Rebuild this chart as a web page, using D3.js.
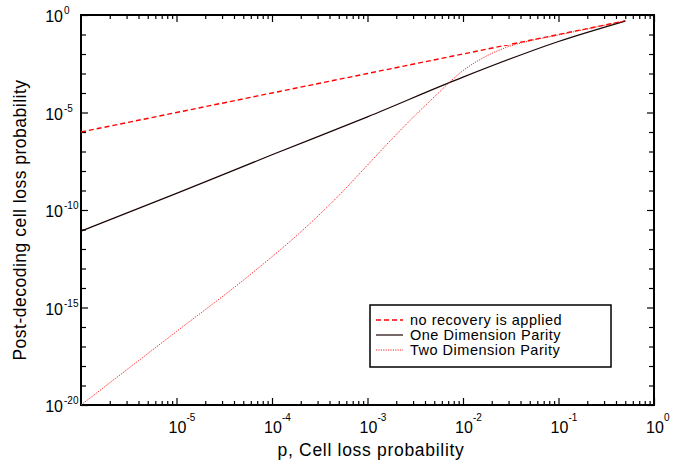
<!DOCTYPE html>
<html>
<head>
<meta charset="utf-8">
<script src="https://cdn.jsdelivr.net/npm/d3@7"></script>
<style>
  body { margin: 0; background: #fff; }
  svg { font-family: "Liberation Sans", Arial, sans-serif; }
</style>
</head>
<body>
<svg id="chart" width="673" height="462"></svg>
<script>
// values
const noRecoveryP = [1e-6, 1e-5, 1e-4, 1e-3, 1e-2, 1e-1, 0.5];
const noRecoveryLoss = [1e-6, 1e-5, 1e-4, 1e-3, 1e-2, 1e-1, 0.5];

const oneDimP = [1e-6, 1e-5, 1e-4, 1e-3, 1e-2, 1e-1, 0.5];
const oneDimLoss = [8.3e-12, 7.1e-10, 6.8e-8, 6.0e-6, 6.5e-4, 4.4e-2, 0.49];

const twoDimP = [1e-6, 1e-5, 5e-5, 1e-4, 2e-4, 5e-4, 1e-3, 2e-3, 5e-3, 1e-2, 2e-2, 3e-2, 5e-2, 1e-1, 0.5];
const twoDimLoss = [1e-20, 5.9e-17, 2.5e-14, 4e-13, 7.5e-12, 5.5e-10, 2e-8, 7.5e-7, 6.3e-5, 1.4e-3, 1.07e-2, 2.4e-2, 4.7e-2, 9.5e-2, 0.5];

const xMajorExp = [-5, -4, -3, -2, -1, 0];
const yMajorExp = [0, -5, -10, -15, -20];

const xTitle = "p, Cell loss probability";
const yTitle = "Post-decoding cell loss probability";

const legendLabels = ["no recovery is applied", "One Dimension Parity", "Two Dimension Parity"];

const margin = { left: 81, right: 19, top: 15, bottom: 57 };
const width = 673;
const height = 462;

const svg = d3.select("#chart");

const x = d3
  .scaleLog()
  .domain([1e-6, 1])
  .range([margin.left, width - margin.right]);
const y = d3
  .scaleLog()
  .domain([1e-20, 1])
  .range([height - margin.bottom, margin.top]);

// tick positions
const xMinor = [];
for (let e = -6; e < 0; e++) {
  for (let k = 2; k <= 9; k++) xMinor.push(k * Math.pow(10, e));
}
const xMajor = xMajorExp.map((e) => Math.pow(10, e));
const yMinor = d3.range(-19, 0).filter((e) => e % 5 !== 0).map((e) => Math.pow(10, e));
const yMajor = yMajorExp.map((e) => Math.pow(10, e));

const drawTicks = (axisFn, scale, values, size, transform) => {
  svg
    .append("g")
    .attr("transform", transform)
    .call(axisFn(scale).tickValues(values).tickSize(-size).tickFormat(""))
    .call((g) => g.select(".domain").remove())
    .call((g) => g.selectAll("line").attr("stroke", "#000").attr("stroke-width", 1.2));
};

const bottomT = `translate(0,${height - margin.bottom})`;
const topT = `translate(0,${margin.top})`;
const leftT = `translate(${margin.left},0)`;
const rightT = `translate(${width - margin.right},0)`;

drawTicks(d3.axisBottom, x, xMinor, 4, bottomT);
drawTicks(d3.axisBottom, x, xMajor, 7, bottomT);
drawTicks(d3.axisTop, x, xMinor, 4, topT);
drawTicks(d3.axisTop, x, xMajor, 7, topT);
drawTicks(d3.axisLeft, y, yMinor, 5, leftT);
drawTicks(d3.axisLeft, y, yMajor, 7, leftT);
drawTicks(d3.axisRight, y, yMinor, 5, rightT);
drawTicks(d3.axisRight, y, yMajor, 7, rightT);

// frame
svg
  .append("rect")
  .attr("x", margin.left)
  .attr("y", margin.top)
  .attr("width", width - margin.left - margin.right)
  .attr("height", height - margin.top - margin.bottom)
  .attr("fill", "none")
  .attr("stroke", "#000")
  .attr("stroke-width", 2);

// x tick labels
const xLab = svg.append("g").selectAll("g").data(xMajorExp).join("g");
xLab
  .append("text")
  .attr("x", (e) => x(Math.pow(10, e)) + 1)
  .attr("y", 433)
  .attr("text-anchor", "middle")
  .attr("font-size", 16)
  .text("10");
xLab
  .append("text")
  .attr("x", (e) => x(Math.pow(10, e)) + 10)
  .attr("y", 421)
  .attr("font-size", 10)
  .text((e) => (e === 0 ? "0" : "-" + Math.abs(e)));

// y tick labels
const yLab = svg.append("g").selectAll("g").data(yMajorExp).join("g");
yLab
  .append("text")
  .attr("x", 63)
  .attr("y", (e) => y(Math.pow(10, e)) + 7)
  .attr("text-anchor", "end")
  .attr("font-size", 16)
  .text("10");
yLab
  .append("text")
  .attr("x", 64)
  .attr("y", (e) => y(Math.pow(10, e)) - 1)
  .attr("font-size", 10)
  .text((e) => (e === 0 ? "0" : "-" + Math.abs(e)));

// axis titles
svg
  .append("text")
  .attr("x", 371)
  .attr("y", 456)
  .attr("text-anchor", "middle")
  .attr("font-size", 17.5)
  .attr("letter-spacing", 0.7)
  .text(xTitle);
svg
  .append("text")
  .attr("transform", "translate(26,220) rotate(-90)")
  .attr("text-anchor", "middle")
  .attr("font-size", 17.5)
  .attr("letter-spacing", 0.5)
  .text(yTitle);

// series
const line = d3
  .line()
  .x((d) => x(d[0]))
  .y((d) => y(d[1]))
  .curve(d3.curveMonotoneX);

const series = [
  { p: noRecoveryP, v: noRecoveryLoss, color: "#ff0000", width: 1.4, dash: "5,3" },
  { p: oneDimP, v: oneDimLoss, color: "#1a0505", width: 1.2, dash: null },
  { p: twoDimP, v: twoDimLoss, color: "#ff2020", width: 1, dash: "1.2,1.2" },
];

const plot = svg.append("g");
series.forEach((s) => {
  plot
    .append("path")
    .datum(d3.zip(s.p, s.v))
    .attr("d", line)
    .attr("fill", "none")
    .attr("stroke", s.color)
    .attr("stroke-width", s.width)
    .attr("stroke-dasharray", s.dash);
});

// legend
const legend = svg.append("g");
legend
  .append("rect")
  .attr("x", 370)
  .attr("y", 305)
  .attr("width", 241)
  .attr("height", 62)
  .attr("fill", "#fff")
  .attr("stroke", "#000")
  .attr("stroke-width", 1.5);

const rows = legend
  .selectAll("g.row")
  .data(legendLabels)
  .join("g")
  .attr("class", "row")
  .attr("transform", (d, i) => `translate(0,${320 + i * 15})`);
rows
  .append("line")
  .attr("x1", 376)
  .attr("x2", 403)
  .attr("y1", 0)
  .attr("y2", 0)
  .attr("stroke", (d, i) => series[i].color)
  .attr("stroke-width", (d, i) => series[i].width)
  .attr("stroke-dasharray", (d, i) => series[i].dash);
rows
  .append("text")
  .attr("x", 410)
  .attr("y", 5)
  .attr("font-size", 14.5)
  .attr("letter-spacing", 0.5)
  .text((d) => d);
</script>
</body>
</html>
